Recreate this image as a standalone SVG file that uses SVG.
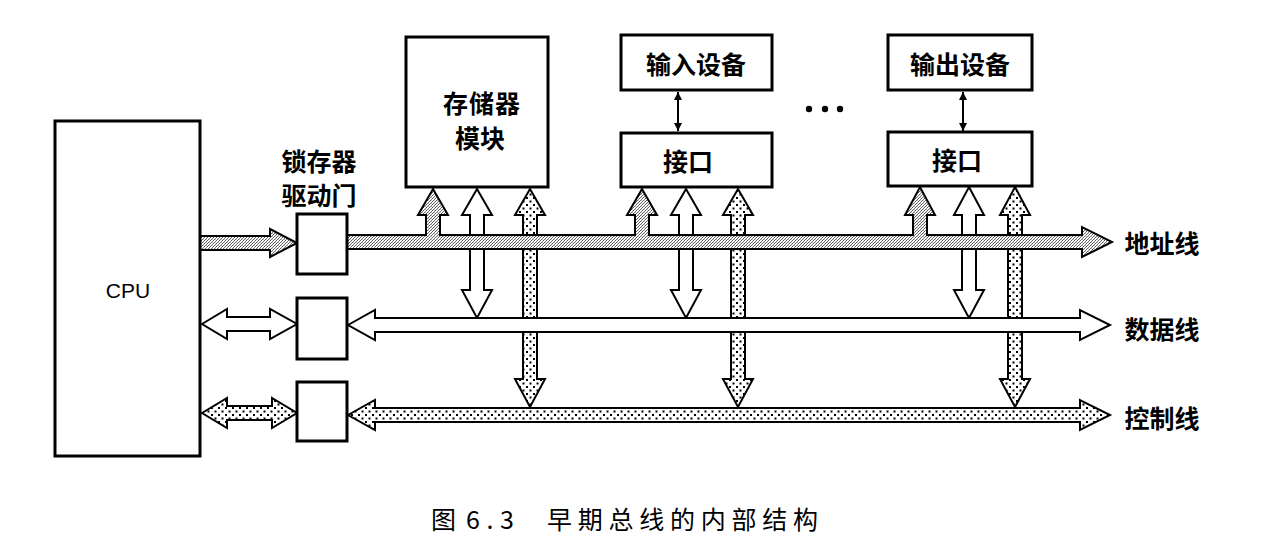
<svg xmlns="http://www.w3.org/2000/svg" width="1272" height="537" viewBox="0 0 1272 537">
<style>
.box{fill:#fff;stroke:#000;stroke-width:3}
.arr{stroke:#000;stroke-width:2;stroke-linejoin:miter}
.white{fill:#fff}
.addr{fill:url(#pAddr)}
.ctrl{fill:url(#pCtrl)}
.lbl{font-family:"Noto Sans CJK SC","Liberation Sans",sans-serif;font-weight:700;font-size:25px;fill:#000;text-anchor:middle;dominant-baseline:central}
.cap{font-family:"Noto Sans CJK SC","Liberation Serif",serif;font-size:25px;fill:#000;dominant-baseline:central}
.thin{stroke:#000;stroke-width:2;fill:none}
</style>
<defs>
<pattern id="pAddr" width="3" height="3" patternUnits="userSpaceOnUse">
<rect width="3" height="3" fill="#fff"/>
<rect x="0" y="0" width="1" height="1" fill="#555"/>
<rect x="2" y="1" width="1" height="1" fill="#777"/>
<rect x="1" y="2" width="1" height="1" fill="#666"/>
<rect x="2" y="2" width="1" height="1" fill="#ccc"/>
</pattern>
<pattern id="pCtrl" width="7" height="7" patternUnits="userSpaceOnUse">
<rect width="7" height="7" fill="#fff"/>
<rect x="1" y="1" width="2" height="2" fill="#000"/>
<rect x="4.5" y="4.5" width="2" height="2" fill="#000"/>
</pattern>
<marker id="mh" viewBox="0 0 10 10" refX="10" refY="5" markerWidth="4" markerHeight="5" orient="auto-start-reverse" markerUnits="strokeWidth">
<path d="M0,0 L10,5 L0,10 Z" fill="#000"/>
</marker>
</defs>

<g id="connectors">
<!-- vertical data arrows (bidirectional, device <-> data bus) -->
<polygon class="arr white" points="477,189 492,215 484,215 484,290 492,290 477,318 462,290 470,290 470,215 462,215"/>
<polygon class="arr white" points="686,189 701,215 693,215 693,290 701,290 686,318 671,290 679,290 679,215 671,215"/>
<polygon class="arr white" points="969,187 984,215 976,215 976,290 984,290 969,318 954,290 962,290 962,215 954,215"/>
<!-- vertical control arrows -->
<polygon class="arr ctrl" points="530,189 545,215 537,215 537,379 545,379 530,407 515,379 523,379 523,215 515,215"/>
<polygon class="arr ctrl" points="738,189 753,215 745,215 745,379 753,379 738,407 723,379 731,379 731,215 723,215"/>
<polygon class="arr ctrl" points="1015,187 1030,215 1022,215 1022,379 1030,379 1015,407 1000,379 1008,379 1008,215 1000,215"/>

<!-- address bus with upward branches -->
<polygon class="arr addr" points="347,235 426,235 426,215 418,215 433,189 448,215 440,215 440,235 635,235 635,215 627,215 642,189 657,215 649,215 649,235 913,235 913,215 905,215 920,187 935,215 927,215 927,235 1082,235 1082,227 1112,242 1082,257 1082,249 347,249"/>
<!-- data bus -->
<polygon class="arr white" points="348,325 375,310 375,318 1080,318 1080,310 1110,325 1080,340 1080,332 375,332 375,340"/>
<!-- control bus -->
<polygon class="arr ctrl" points="348,415 375,400 375,408 1080,408 1080,400 1110,415 1080,430 1080,422 375,422 375,430"/>

<!-- CPU to latches -->
<polygon class="arr addr" points="200,236 270,236 270,229 297,243 270,257 270,250 200,250"/>
<polygon class="arr white" points="202,324 227,309 227,317 270,317 270,309 297,324 270,339 270,331 227,331 227,339"/>
<polygon class="arr ctrl" points="202,413 227,398 227,406 272,406 272,398 297,413 272,428 272,420 227,420 227,428"/>

<!-- device <-> interface -->
<line class="thin" x1="678" y1="92" x2="678" y2="131" marker-start="url(#mh)" marker-end="url(#mh)"/>
<line class="thin" x1="963" y1="92" x2="963" y2="131" marker-start="url(#mh)" marker-end="url(#mh)"/>
</g>

<g id="cpu">
<rect class="box" x="55" y="121" width="145" height="335"/>
<text x="128" y="290" font-family="Liberation Sans, sans-serif" font-size="21" text-anchor="middle" dominant-baseline="central">CPU</text>
</g>

<g id="latch-label">
<text class="lbl" x="319" y="160">锁存器</text>
<text class="lbl" x="319" y="194">驱动门</text>
</g>
<g id="latch1"><rect class="box" x="297" y="214" width="50" height="60"/></g>
<g id="latch2"><rect class="box" x="297" y="298" width="50" height="61"/></g>
<g id="latch3"><rect class="box" x="297" y="382" width="50" height="59"/></g>

<g id="memory">
<rect class="box" x="406" y="37" width="142" height="150"/>
<text class="lbl" x="482" y="102" font-size="23" letter-spacing="1">存储器</text>
<text class="lbl" x="480" y="137" font-size="23">模块</text>
</g>

<g id="input-device">
<rect class="box" x="621" y="35" width="151" height="55"/>
<text class="lbl" x="696" y="63">输入设备</text>
</g>
<g id="input-interface">
<rect class="box" x="621" y="133" width="151" height="54"/>
<text class="lbl" x="688" y="160">接口</text>
</g>

<g id="output-device">
<rect class="box" x="888" y="35" width="144" height="55"/>
<text class="lbl" x="960" y="63">输出设备</text>
</g>
<g id="output-interface">
<rect class="box" x="888" y="132" width="144" height="54"/>
<text class="lbl" x="957" y="159">接口</text>
</g>

<g id="ellipsis">
<circle cx="809" cy="109" r="3.2"/>
<circle cx="825" cy="109" r="3.2"/>
<circle cx="840" cy="109" r="3.2"/>
</g>

<g id="bus-labels">
<text class="lbl" x="1162" y="242">地址线</text>
<text class="lbl" x="1162" y="328">数据线</text>
<text class="lbl" x="1162" y="417">控制线</text>
</g>

<g id="caption">
<text class="cap" x="431" y="518">图</text>
<text class="cap" x="466" y="518" font-family="Liberation Mono, monospace" font-size="24" textLength="48" lengthAdjust="spacing">6.3</text>
<text class="cap" x="547" y="518" textLength="271" lengthAdjust="spacing">早期总线的内部结构</text>
</g>
</svg>
